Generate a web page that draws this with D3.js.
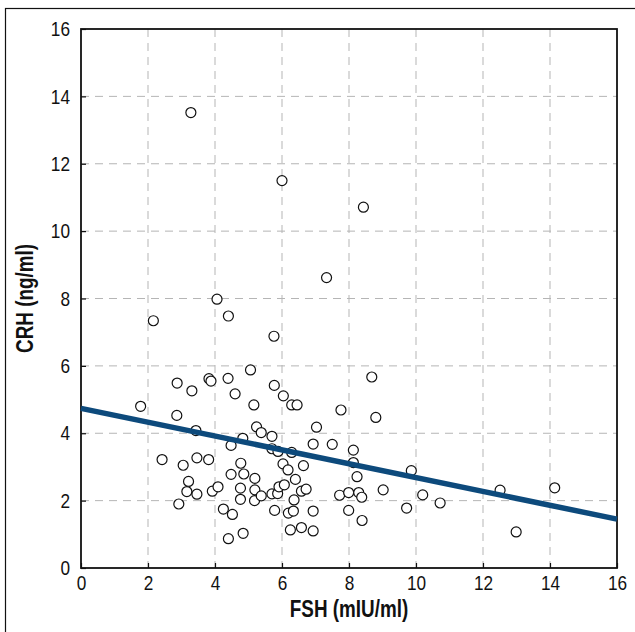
<!DOCTYPE html>
<html>
<head>
<meta charset="utf-8">
<script src="https://cdn.jsdelivr.net/npm/d3@7"></script>
<style>
  html, body { margin: 0; padding: 0; background: #fff; }
  svg { display: block; }
  text { font-family: 'Liberation Sans', Arial, sans-serif; fill: #111; }
</style>
</head>
<body>
<svg id="chart" width="635" height="632"></svg>
<script>
// FSH (mIU/ml) per subject
const fshValues = [
  3.28, 6.00, 8.43, 7.33, 4.06, 2.16, 4.40, 5.76, 5.06, 8.68,
  2.87, 3.82, 3.88, 4.39, 3.31, 4.60, 5.77, 6.04, 6.29, 6.45,
  5.16, 7.76, 8.80, 1.78, 2.86, 3.43, 5.24, 5.38, 7.03, 4.48,
  4.83, 5.70, 5.70, 5.88, 6.29, 6.93, 2.42, 3.05, 3.46, 3.81,
  4.77, 4.86, 4.48, 6.03, 6.18, 6.64, 3.21, 3.16, 3.46, 2.92,
  3.92, 4.09, 4.76, 4.76, 5.19, 5.19, 5.18, 5.38, 5.70, 5.87,
  5.91, 6.07, 6.40, 6.36, 6.58, 6.72, 4.25, 4.52, 5.78, 6.19,
  6.34, 6.93, 4.40, 4.84, 6.25, 6.58, 6.93, 7.50, 8.13, 8.13,
  8.24, 9.86, 9.02, 7.72, 7.99, 8.29, 8.38, 10.20, 10.72, 9.72,
  7.99, 8.39, 12.51, 14.14, 12.99
];
// CRH (ng/ml) per subject, same order
const crhValues = [
  13.52, 11.50, 10.71, 8.62, 7.98, 7.34, 7.48, 6.88, 5.88, 5.67,
  5.49, 5.62, 5.55, 5.63, 5.26, 5.17, 5.42, 5.11, 4.84, 4.84,
  4.84, 4.69, 4.47, 4.80, 4.53, 4.08, 4.19, 4.02, 4.18, 3.64,
  3.85, 3.91, 3.54, 3.46, 3.43, 3.68, 3.22, 3.05, 3.27, 3.22,
  3.11, 2.79, 2.78, 3.09, 2.91, 3.04, 2.57, 2.27, 2.19, 1.90,
  2.28, 2.41, 2.37, 2.04, 2.66, 2.32, 2.00, 2.14, 2.20, 2.21,
  2.41, 2.47, 2.63, 2.02, 2.28, 2.34, 1.75, 1.59, 1.71, 1.63,
  1.69, 1.69, 0.87, 1.03, 1.13, 1.20, 1.10, 3.67, 3.50, 3.13,
  2.71, 2.89, 2.32, 2.16, 2.24, 2.24, 2.10, 2.17, 1.93, 1.78,
  1.71, 1.41, 2.31, 2.38, 1.07
];
// Regression line end points
const fitX = [0, 16];
const fitY = [4.74, 1.45];

const xTicks = [0, 2, 4, 6, 8, 10, 12, 14, 16];
const yTicks = [0, 2, 4, 6, 8, 10, 12, 14, 16];
const xTitle = "FSH (mIU/ml)";
const yTitle = "CRH (ng/ml)";

// horizontal squeeze giving a condensed look to the sans face
const SQ = 0.82;

const svg = d3.select("#chart");
const plot = { left: 81, right: 617, top: 29, bottom: 568 };

const x = d3.scaleLinear().domain([0, 16]).range([plot.left, plot.right]);
const y = d3.scaleLinear().domain([0, 16]).range([plot.bottom, plot.top]);

// figure frame
svg.append("rect")
  .attr("x", 5.5).attr("y", 8.5)
  .attr("width", 660).attr("height", 660)
  .attr("fill", "none").attr("stroke", "#111").attr("stroke-width", 1.2);

// dashed grid
svg.append("g").selectAll("line").data(xTicks.filter(v => v > 0 && v < 16)).join("line")
  .attr("x1", d => x(d)).attr("x2", d => x(d))
  .attr("y1", plot.top).attr("y2", plot.bottom)
  .attr("stroke", "#b5b5b5").attr("stroke-width", 1).attr("stroke-dasharray", "8,6");
svg.append("g").selectAll("line").data(yTicks.filter(v => v > 0 && v < 16)).join("line")
  .attr("x1", plot.left).attr("x2", plot.right)
  .attr("y1", d => y(d)).attr("y2", d => y(d))
  .attr("stroke", "#b5b5b5").attr("stroke-width", 1).attr("stroke-dasharray", "8,6");

// axes with inward ticks
const xAxis = svg.append("g")
  .attr("transform", `translate(0,${plot.bottom})`)
  .call(d3.axisBottom(x).tickValues(xTicks).tickSize(-5).tickPadding(10).tickFormat(d3.format("d")));
const yAxis = svg.append("g")
  .attr("transform", `translate(${plot.left},0)`)
  .call(d3.axisLeft(y).tickValues(yTicks).tickSize(-5).tickPadding(11).tickFormat(d3.format("d")));
[xAxis, yAxis].forEach(g => {
  g.select(".domain").remove();
  g.selectAll(".tick line").attr("stroke", "#111").attr("stroke-width", 1.2);
  g.selectAll(".tick text").attr("font-size", 21).attr("fill", "#111")
    .style("font-family", "'Liberation Sans', Arial, sans-serif");
});
xAxis.selectAll(".tick text").attr("dy", "0.72em").attr("y", 7)
  .attr("transform", `scale(${SQ},1)`);
yAxis.selectAll(".tick text").attr("x", -11 / SQ)
  .attr("transform", `scale(${SQ},1)`);

// plot border
svg.append("rect")
  .attr("x", plot.left).attr("y", plot.top)
  .attr("width", plot.right - plot.left).attr("height", plot.bottom - plot.top)
  .attr("fill", "none").attr("stroke", "#111").attr("stroke-width", 1.8);

// points
svg.append("g").selectAll("circle").data(fshValues.map((v, i) => [v, crhValues[i]])).join("circle")
  .attr("cx", d => x(d[0])).attr("cy", d => y(d[1])).attr("r", 5)
  .attr("fill", "#fff").attr("stroke", "#111").attr("stroke-width", 1.2);

// regression line
svg.append("line")
  .attr("x1", x(fitX[0])).attr("y1", y(fitY[0]))
  .attr("x2", x(fitX[1])).attr("y2", y(fitY[1]))
  .attr("stroke", "#0d4a7c").attr("stroke-width", 5.5);

// axis titles
svg.append("text")
  .attr("transform", `translate(${(plot.left + plot.right) / 2},617) scale(${SQ},1)`)
  .attr("text-anchor", "middle").attr("font-size", 23).attr("font-weight", "bold")
  .text(xTitle);
svg.append("text")
  .attr("transform", `translate(33,${(plot.top + plot.bottom) / 2}) rotate(-90) scale(${SQ},1)`)
  .attr("text-anchor", "middle").attr("font-size", 23).attr("font-weight", "bold")
  .text(yTitle);
</script>
</body>
</html>
